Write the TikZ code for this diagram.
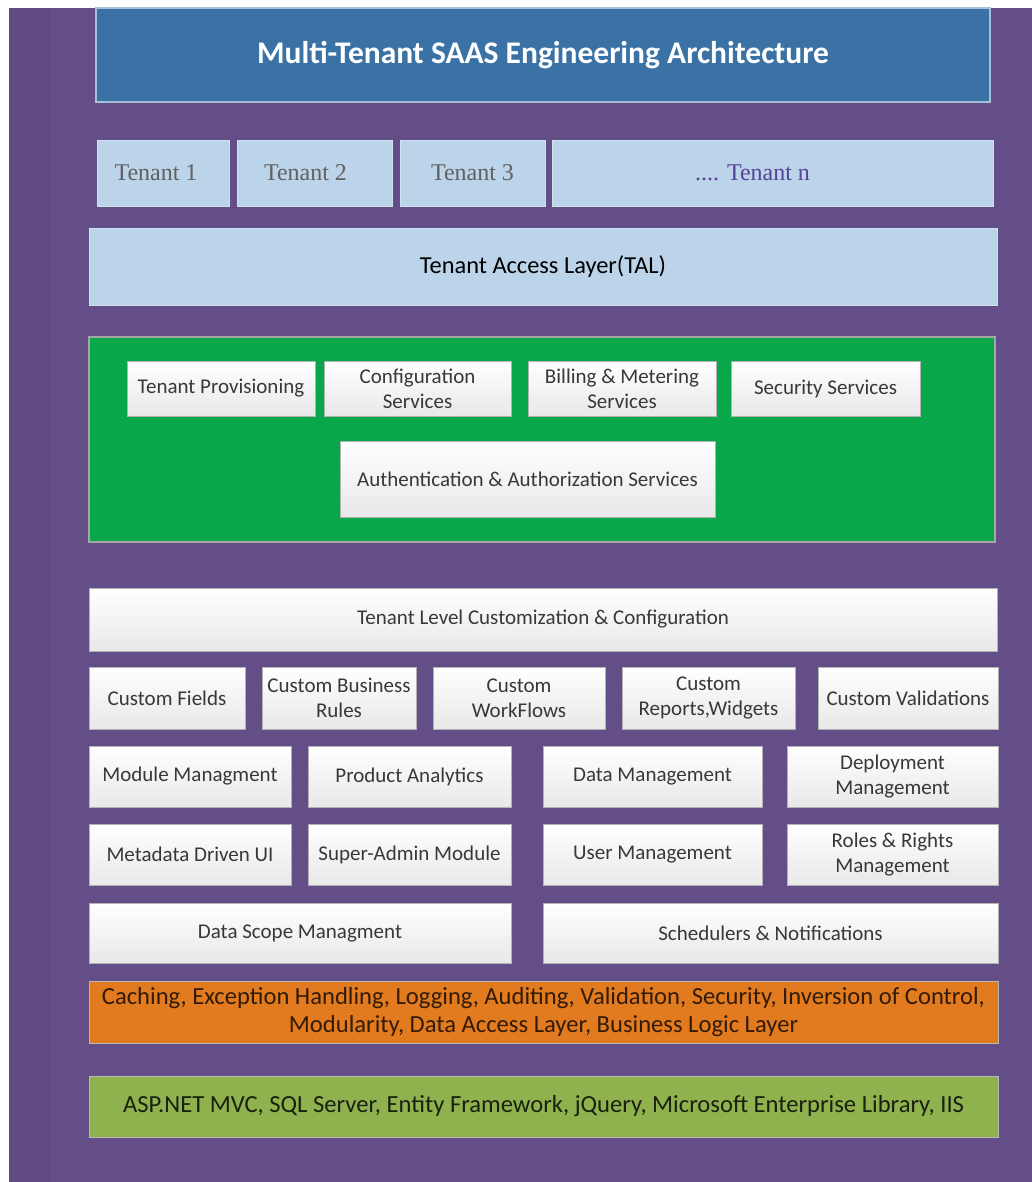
\documentclass[tikz,border=0pt]{standalone}
\usepackage{fontspec}
\setmainfont{Carlito}
\newfontfamily\tenantfont{Liberation Serif}
\definecolor{bgpurple}{HTML}{644E87}
\definecolor{stripPurple}{HTML}{614B84}
\definecolor{titleblue}{HTML}{3A72A6}
\definecolor{tenantblue}{HTML}{BCD4EA}
\definecolor{svcgreen}{HTML}{0AA64A}
\definecolor{infraorange}{HTML}{E27A1F}
\definecolor{techolive}{HTML}{8FB24E}
\begin{document}
\begin{tikzpicture}[x=1pt, y=-1pt,
    titlebox/.style={fill=titleblue, draw=titleblue!45!white, line width=1.5pt, text=white, inner sep=0pt,
        font=\fontsize{31.5}{36}\selectfont\bfseries},
    tenantbox/.style={fill=tenantblue, draw=tenantblue!70!white, minimum height=66, inner sep=0pt,
        text=black!62, font=\tenantfont\fontsize{24}{27}\selectfont},
    svcbox/.style={top color=white, bottom color=black!9, draw=gray!60, line width=1pt, inner sep=0pt,
        text=black!78, align=center, font=\fontsize{21}{25}\selectfont},
    stackbox/.style={draw=gray!55, line width=1pt, inner sep=0pt, align=center,
        minimum width=909, font=\fontsize{24.6}{28}\selectfont}]
\useasboundingbox (0,0) rectangle (1032,1182);
\fill[white] (0,0) rectangle (1032,1182);
\fill[bgpurple] (9,8) rectangle (1032,1182);
\fill[stripPurple] (9,8) rectangle (50,1182);

% header and tenants
\node[titlebox, minimum width=894, minimum height=94] (title) at (543,55) {Multi-Tenant SAAS Engineering Architecture};
\node[tenantbox, minimum width=132] (tenant1) at (163,173) {\hspace*{-14pt}Tenant 1};
\node[tenantbox, minimum width=155] (tenant2) at (314.5,173) {\hspace*{-18pt}\raisebox{-3pt}{Tenant 2}};
\node[tenantbox, minimum width=145] (tenant3) at (472.5,173) {Tenant 3};
\node[tenantbox, minimum width=441, text=bgpurple!85!blue] (tenantn) at (772.5,173) {\hspace*{-40pt}\raisebox{-3pt}{.... Tenant n}};
\node[tenantbox, minimum width=908, minimum height=77, text=black, font=\fontsize{24.4}{28}\selectfont] (tal) at (543,266.5) {Tenant Access Layer(TAL)};

% common services
\node[fill=svcgreen, draw=gray!70, line width=1.2pt, minimum width=906, minimum height=205] (services) at (542,439.5) {};
\node[svcbox, minimum width=188, minimum height=55] (provision) at (221,388.5) {Tenant Provisioning};
\node[svcbox, minimum width=187, minimum height=55] (config) at (417.5,388.5) {Configuration\\Services};
\node[svcbox, minimum width=188, minimum height=55] (billing) at (622,388.5) {Billing \& Metering\\Services};
\node[svcbox, minimum width=189, minimum height=55] (security) at (825.5,388.5) {Security Services};
\node[svcbox, minimum width=375, minimum height=76] (auth) at (527.5,479) {Authentication \& Authorization Services};

% customization
\node[svcbox, minimum width=908, minimum height=63] (custom) at (543,619.5) {Tenant Level Customization \& Configuration};
\node[svcbox, minimum width=156, minimum height=62] (fields) at (167,698) {Custom Fields};
\node[svcbox, minimum width=154, minimum height=62] (rules) at (339,698) {Custom Business\\Rules};
\node[svcbox, minimum width=172, minimum height=62] (workflows) at (519,698) {Custom\\WorkFlows};
\node[svcbox, minimum width=173, minimum height=62] (reports) at (708.5,698) {Custom\\Reports,Widgets};
\node[svcbox, minimum width=180, minimum height=62] (validations) at (908,698) {Custom Validations};

% modules
\node[svcbox, minimum width=202, minimum height=61] (module) at (190,776.5) {Module Managment};
\node[svcbox, minimum width=203, minimum height=61] (analytics) at (409.5,776.5) {Product Analytics};
\node[svcbox, minimum width=219, minimum height=61] (datamgmt) at (652.5,776.5) {Data Management};
\node[svcbox, minimum width=211, minimum height=61] (deploy) at (892.5,776.5) {Deployment\\Management};
\node[svcbox, minimum width=202, minimum height=61] (metaui) at (190,854.5) {Metadata Driven UI};
\node[svcbox, minimum width=203, minimum height=61] (superadmin) at (409.5,854.5) {Super-Admin Module};
\node[svcbox, minimum width=219, minimum height=61] (users) at (652.5,854.5) {User Management};
\node[svcbox, minimum width=211, minimum height=61] (roles) at (892.5,854.5) {Roles \& Rights\\Management};
\node[svcbox, minimum width=422, minimum height=60] (scope) at (300,933) {Data Scope Managment};
\node[svcbox, minimum width=455, minimum height=60] (schedulers) at (770.5,933) {Schedulers \& Notifications};

% infrastructure and technology
\node[stackbox, fill=infraorange, text=infraorange!22!black, minimum height=62] (infra) at (543.5,1012)
    {Caching, Exception Handling, Logging, Auditing, Validation, Security, Inversion of Control,\\Modularity, Data Access Layer, Business Logic Layer};
\node[stackbox, fill=techolive, text=techolive!18!black, minimum height=61] (tech) at (543.5,1106.5)
    {ASP.NET MVC, SQL Server, Entity Framework, jQuery, Microsoft Enterprise Library, IIS};
\end{tikzpicture}
\end{document}
